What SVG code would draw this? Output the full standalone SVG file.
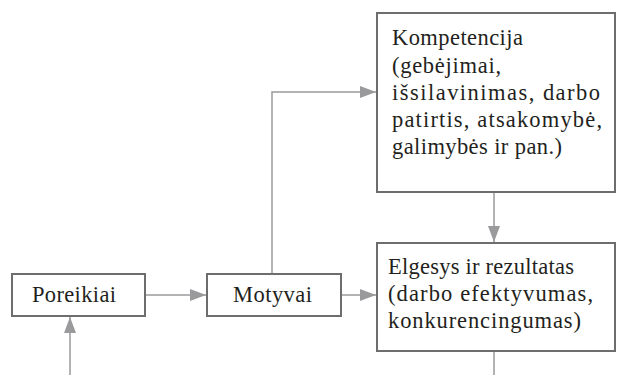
<svg xmlns="http://www.w3.org/2000/svg" width="618" height="375" viewBox="0 0 618 375">
<style>
.box{fill:#fff;stroke:#6d6d6d;stroke-width:2}
.t{font-family:"Liberation Serif","DejaVu Serif",serif;font-size:22.5px;fill:#231f20}
.c{fill:none;stroke:#9a9a9c;stroke-width:1.5}
</style>
<defs>
<marker id="ah" viewBox="0 0 16 12" refX="16" refY="6" markerWidth="16" markerHeight="12" markerUnits="userSpaceOnUse" orient="auto">
<path d="M0,0 L16,6 L0,12 Z" fill="#9a9a9c"/>
</marker>
</defs>
<rect width="618" height="375" fill="#fff"/>
<g id="connectors">
<line class="c" x1="70" y1="375" x2="70" y2="317" marker-end="url(#ah)"/>
<line class="c" x1="145" y1="295" x2="206" y2="295" marker-end="url(#ah)"/>
<line class="c" x1="341" y1="295" x2="376" y2="295" marker-end="url(#ah)"/>
<polyline class="c" points="272,274 272,92 376,92" marker-end="url(#ah)"/>
<line class="c" x1="494" y1="192" x2="494" y2="242" marker-end="url(#ah)"/>
<line class="c" x1="494" y1="351" x2="494" y2="375"/>
</g>
<g id="poreikiai">
<rect class="box" x="12" y="274" width="133" height="42"/>
<text class="t" x="32" y="302" textLength="84">Poreikiai</text>
</g>
<g id="motyvai">
<rect class="box" x="207" y="274" width="134" height="42"/>
<text class="t" x="233" y="302" textLength="79">Motyvai</text>
</g>
<g id="kompetencija">
<rect class="box" x="377" y="13" width="238" height="179"/>
<text class="t" x="392" y="45" textLength="131">Kompetencija</text>
<text class="t" x="392" y="72.5" textLength="109">(gebėjimai,</text>
<text class="t" x="392" y="100" textLength="208">išsilavinimas, darbo</text>
<text class="t" x="392" y="127" textLength="210">patirtis, atsakomybė,</text>
<text class="t" x="392" y="154" textLength="170">galimybės ir pan.)</text>
</g>
<g id="elgesys">
<rect class="box" x="377" y="243" width="238" height="108"/>
<text class="t" x="388" y="274" textLength="186">Elgesys ir rezultatas</text>
<text class="t" x="388" y="301" textLength="205">(darbo efektyvumas,</text>
<text class="t" x="388" y="328" textLength="193">konkurencingumas)</text>
</g>
</svg>
